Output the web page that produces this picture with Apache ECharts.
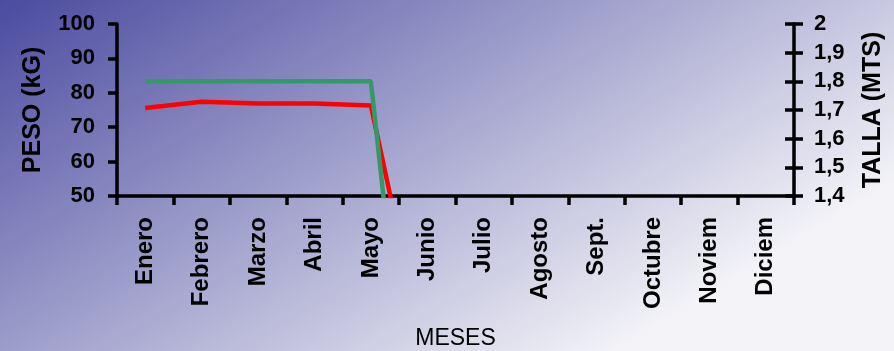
<!DOCTYPE html>
<html>
<head>
<meta charset="utf-8">
<script src="https://cdn.jsdelivr.net/npm/echarts@6/dist/echarts.min.js"></script>
<style>html,body{margin:0;padding:0;}#c{width:894px;height:351px;}</style>
</head>
<body>
<div id="c"></div>
<script>
const months = ['Enero','Febrero','Marzo','Abril','Mayo','Junio','Julio','Agosto','Sept.','Octubre','Noviem','Diciem'];
const peso = [75.6, 77.4, 76.9, 76.9, 76.3, 0, 0, 0, 0, 0, 0, 0];
const talla = [1.8, 1.8, 1.8, 1.8, 1.8, 0, 0, 0, 0, 0, 0, 0];
const pesoRange = {min: 50, max: 100, interval: 10};
const tallaRange = {min: 1.4, max: 2, interval: 0.1};

const FONT = "'Liberation Sans', Arial, sans-serif";
const chart = echarts.init(document.getElementById('c'), null, {renderer: 'canvas'});
const lineStyle = {color: '#000', width: 3.5};
const fmtTalla = v => String(+(+v).toFixed(1)).replace('.', ',');
chart.setOption({
  animation: false,
  backgroundColor: new echarts.graphic.LinearGradient(0, 0, 323, 534, [
    {offset: 0, color: '#4B4BA0'},
    {offset: 1, color: '#F4F4F8'}
  ], true),
  grid: {left: 117, right: 97, top: 24, bottom: 152.5, containLabel: false},
  xAxis: {
    type: 'category',
    data: months,
    boundaryGap: true,
    name: 'MESES',
    nameLocation: 'middle',
    nameGap: 131,
    nameTextStyle: {fontFamily: FONT, fontSize: 23, color: '#000', fontWeight: 'normal'},
    axisLine: {show: true, lineStyle: lineStyle, onZero: false},
    axisTick: {show: true, inside: false, length: 9, interval: 0, lineStyle: lineStyle},
    axisLabel: {rotate: 90, interval: 0, margin: 21, fontFamily: FONT, fontSize: 24, fontWeight: 'bold', color: '#000'},
    splitLine: {show: false}
  },
  yAxis: [
    {
      type: 'value', position: 'left',
      min: pesoRange.min, max: pesoRange.max, interval: pesoRange.interval,
      name: 'PESO (kG)', nameLocation: 'middle', nameGap: 71, nameRotate: 90,
      nameTextStyle: {fontFamily: FONT, fontSize: 25, fontWeight: 'bold', color: '#000'},
      axisLine: {show: true, lineStyle: lineStyle},
      axisTick: {show: true, inside: false, length: 9, lineStyle: lineStyle},
      axisLabel: {margin: 22, fontFamily: FONT, fontSize: 22, fontWeight: 'bold', color: '#000'},
      splitLine: {show: false}
    },
    {
      type: 'value', position: 'right',
      min: tallaRange.min, max: tallaRange.max, interval: tallaRange.interval,
      name: 'TALLA (MTS)', nameLocation: 'middle', nameGap: 67, nameRotate: 90,
      nameTextStyle: {fontFamily: FONT, fontSize: 25, fontWeight: 'bold', color: '#000'},
      axisLine: {show: true, lineStyle: lineStyle},
      axisTick: {show: true, inside: false, length: 9, lineStyle: lineStyle},
      axisLabel: {margin: 20, fontFamily: FONT, fontSize: 22, fontWeight: 'bold', color: '#000', formatter: fmtTalla},
      splitLine: {show: false}
    },
    {
      type: 'value', position: 'right',
      min: tallaRange.min, max: tallaRange.max, interval: tallaRange.interval,
      axisLine: {show: false},
      axisTick: {show: true, inside: true, length: 9, lineStyle: lineStyle},
      axisLabel: {show: false},
      splitLine: {show: false}
    }
  ],
  series: [
    {
      type: 'line', name: 'PESO', data: peso, yAxisIndex: 0,
      showSymbol: false, symbol: 'none', clip: true,
      lineStyle: {color: '#FF0000', width: 4.5}, itemStyle: {color: '#FF0000'}, z: 2
    },
    {
      type: 'line', name: 'TALLA', data: talla, yAxisIndex: 1,
      showSymbol: false, symbol: 'none', clip: true,
      lineStyle: {color: '#339966', width: 4.5}, itemStyle: {color: '#339966'}, z: 3
    }
  ]
});
</script>
</body>
</html>
